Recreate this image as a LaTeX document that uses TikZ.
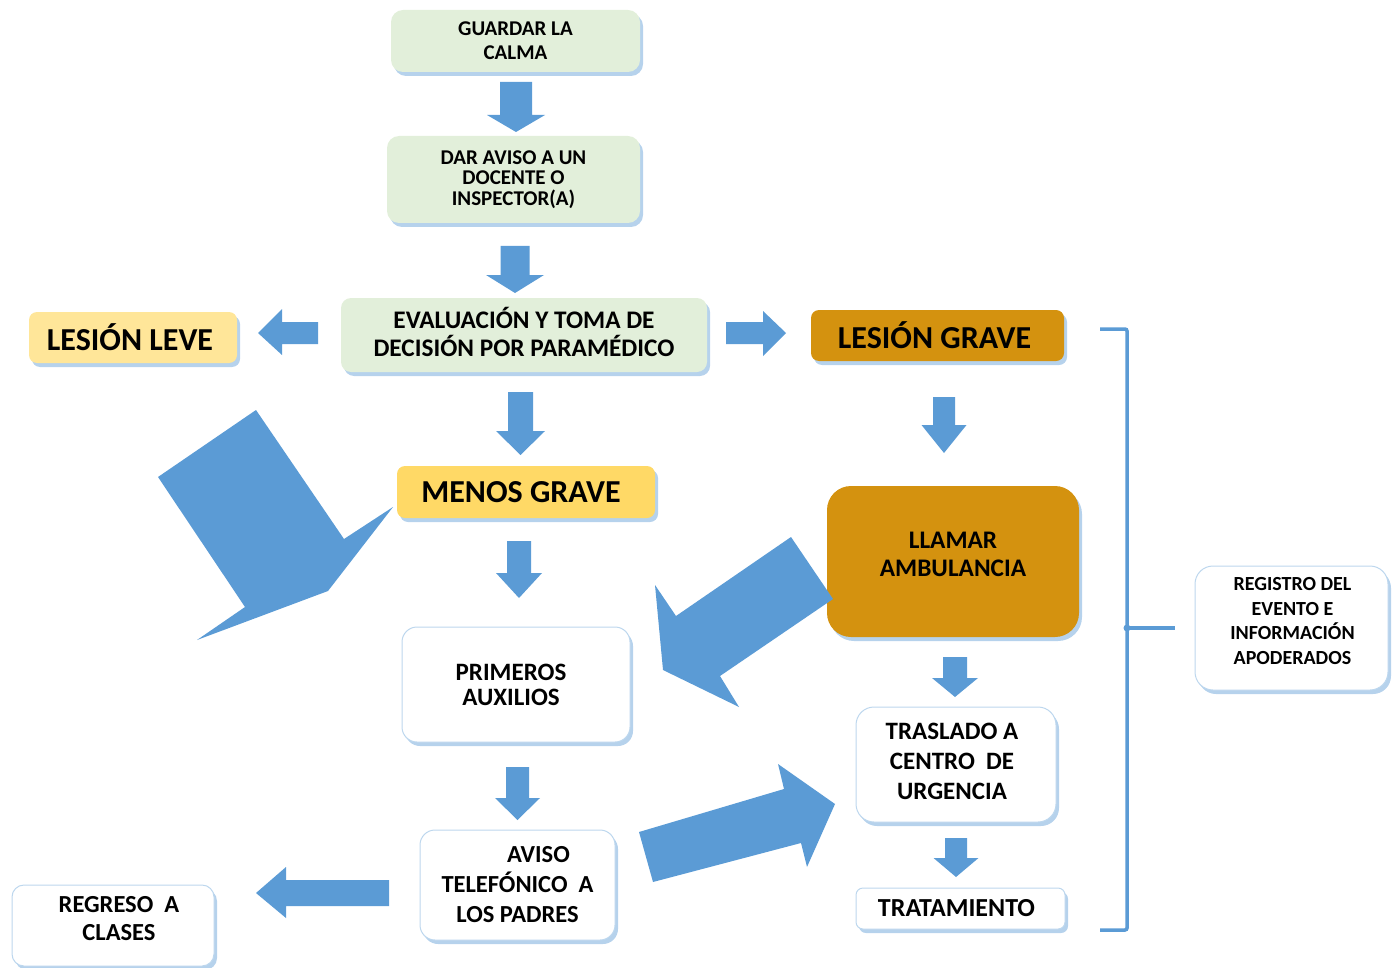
\documentclass[tikz,border=0pt]{standalone}
\usepackage{fontspec}
\setmainfont{Carlito}
\usetikzlibrary{shadows}
\definecolor{arrowblue}{HTML}{5B9BD5}
\definecolor{glow}{HTML}{9DC3E6}
\definecolor{edgeblue}{HTML}{BDD7EE}
\definecolor{lgreen}{HTML}{E2EFDA}
\definecolor{lyellow}{HTML}{FFE699}
\definecolor{myellow}{HTML}{FFD966}
\definecolor{gold}{HTML}{D4920F}
\tikzset{
  box/.style={rectangle, rounded corners=#1, align=center, inner sep=2pt,
    drop shadow={shadow xshift=3pt, shadow yshift=-4pt, fill=glow, opacity=0.75}},
  box/.default=9pt,
  whitebox/.style={box=#1, fill=white, draw=edgeblue, line width=1pt},
  whitebox/.default=14pt,
  blockarrow/.style={fill=arrowblue},
  bracketline/.style={draw=arrowblue, line width=3.5pt},
}
\newcommand{\fs}[2]{\fontsize{#1}{#2}\selectfont\bfseries}
\newcommand{\downarr}[6]{%
  \fill[blockarrow] (#1-#2,#4) -- (#1+#2,#4) -- (#1+#2,#5) -- (#1+#3,#5) -- (#1,#6) -- (#1-#3,#5) -- (#1-#2,#5) -- cycle;}
\begin{document}
\begin{tikzpicture}[x=1pt,y=-1pt]
\useasboundingbox (0,0) rectangle (1399,968);

% boxes
\node[box=12pt, fill=lgreen, minimum width=249pt, minimum height=62pt, font=\fs{21}{24}] (calma) at (515.5,41) {GUARDAR LA\\CALMA};
\node[box=12pt, fill=lgreen, minimum width=253pt, minimum height=87pt, font=\fs{21}{20.5}] (docente) at (513.5,179.5) {DAR AVISO A UN\\DOCENTE O\\INSPECTOR(A)};
\node[box=10pt, fill=lgreen, minimum width=366pt, minimum height=74pt] (eval) at (524,335) {};
\node[font=\fs{25.3}{28}, align=center] (evaltxt) at (524,332) {EVALUACIÓN Y TOMA DE\\DECISIÓN POR PARAMÉDICO};
\node[box=8pt, fill=lyellow, minimum width=208pt, minimum height=51pt, font=\fs{32}{34}] (leve) at (133,337.5) {LESIÓN LEVE\hspace*{6pt}};
\node[box=8pt, fill=gold, minimum width=253pt, minimum height=51pt, font=\fs{32}{34}] (grave) at (937.5,335.5) {LESIÓN GRAVE\hspace*{6pt}};
\node[box=8pt, fill=myellow, minimum width=258pt, minimum height=52pt, font=\fs{32}{34}] (menos) at (526,492) {MENOS GRAVE\hspace*{10pt}};
\node[box=24pt, fill=gold, minimum width=252pt, minimum height=151pt] (llamar) at (953,561.5) {};
\node[font=\fs{25.3}{28}, align=center] (llamartxt) at (953,554) {LLAMAR\\AMBULANCIA};
\node[whitebox=15pt, minimum width=228pt, minimum height=115pt, font=\fs{25}{25}] (primeros) at (516,684.5) {PRIMEROS\hspace*{10pt}\\AUXILIOS\hspace*{10pt}};
\node[whitebox=15pt, minimum width=195pt, minimum height=110pt, font=\fs{24.5}{30}] (avisotel) at (517.5,885) {\hspace*{42pt}AVISO\\TELEFÓNICO\ \ A\\LOS PADRES};
\node[whitebox=12pt, minimum width=202pt, minimum height=81pt] (regreso) at (113,925.5) {};
\node[font=\fs{24.5}{28}, align=center] (regresotxt) at (119,918.5) {REGRESO\ \ A\\CLASES};
\node[whitebox=18pt, minimum width=200pt, minimum height=115pt] (traslado) at (956,764.5) {};
\node[font=\fs{25}{30}, align=center] (trasladotxt) at (952,761.5) {TRASLADO A\\CENTRO\ \ DE\\URGENCIA};
\node[whitebox=7pt, minimum width=209pt, minimum height=41pt, font=\fs{26}{28}] (tratamiento) at (960.5,908.5) {TRATAMIENTO\hspace*{8pt}};
\node[whitebox=18pt, minimum width=193pt, minimum height=124pt] (registro) at (1291.5,628) {};
\node[font=\fs{20}{24.5}, align=center] (registrotxt) at (1292.5,621) {REGISTRO DEL\\EVENTO E\\INFORMACIÓN\\APODERADOS};

% vertical block arrows
\downarr{516}{16}{29}{82}{115}{132}
\downarr{515}{14.5}{29}{246}{275}{293}
\downarr{520.5}{12.5}{24.5}{392}{431}{455}
\downarr{944}{11}{22.5}{397}{425}{453}
\downarr{519}{12}{23}{541}{573}{598}
\downarr{955}{12}{23}{657}{678}{697}
\downarr{956}{11}{22.5}{838}{858}{877}
\downarr{517.5}{11.5}{22.5}{767}{798}{820}

% horizontal block arrows
\fill[blockarrow] (318,322) -- (282,322) -- (282,309) -- (258,333) -- (282,355) -- (282,344) -- (318,344) -- cycle;
\fill[blockarrow] (726,322) -- (763,322) -- (763,311) -- (786,333) -- (763,356) -- (763,344) -- (726,344) -- cycle;
\fill[blockarrow] (389,880) -- (286,880) -- (286,867) -- (256,893) -- (286,918) -- (286,906) -- (389,906) -- cycle;

% diagonal block arrows
\fill[blockarrow] (158,477) -- (256,410) -- (344,539) -- (393,507) -- (328,591) -- (197,640) -- (245,607) -- cycle;
\fill[blockarrow] (791,537) -- (833,599) -- (720,676) -- (739,707) -- (663,670) -- (655,585) -- (676,616) -- cycle;
\fill[blockarrow] (639,832) -- (784,789) -- (778,764) -- (835,804) -- (807,867) -- (801,843) -- (653,882) -- cycle;

% bracket
\coordinate (btop) at (1100,329);
\coordinate (bbot) at (1100,930);
\coordinate (bmid) at (1127,628);
\draw[bracketline, rounded corners=2pt] (btop) -- (1127,329) -- (1127,930) -- (bbot);
\draw[bracketline] (bmid) -- (registro.west -| 1175,0);
\fill[arrowblue] (bmid) circle (3.5pt);
\end{tikzpicture}
\end{document}
